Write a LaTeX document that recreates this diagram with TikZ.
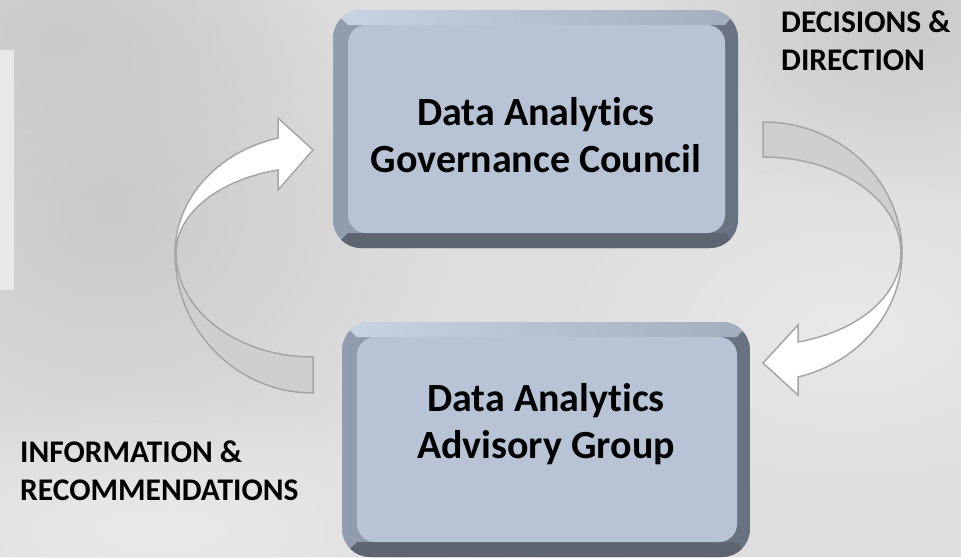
\documentclass[tikz,border=0pt]{standalone}
\usepackage{fontspec}
\setmainfont{Carlito}[Ligatures={NoCommon}]
\usetikzlibrary{shadings,fadings}
\definecolor{bgbase}{HTML}{DEDEDE}
\definecolor{bgdark}{HTML}{CACACA}
\definecolor{bglight}{HTML}{E9E9E9}
\definecolor{face}{HTML}{B8C4D6}
\definecolor{bevL}{HTML}{929EAF}
\definecolor{bevR}{HTML}{687180}
\definecolor{bevT}{HTML}{C8D4E4}
\definecolor{bevTR}{HTML}{A3AEBD}
\definecolor{bevB}{HTML}{5E6570}
\definecolor{arrline}{HTML}{A6A6A6}
\definecolor{arrback}{HTML}{CFCFCF}
\tikzfading[name=softfade, inner color=transparent!0, outer color=transparent!100]
\tikzset{
  boxtext/.style={font=\bfseries\fontsize{40}{47}\selectfont, align=center, inner sep=0pt, text=black},
  lbltext/.style={font=\bfseries\fontsize{31.5}{38}\selectfont, align=left, inner sep=0pt, text=black, anchor=west},
  arrfront/.style={fill=white, draw=arrline, line width=1.5pt, line join=miter},
  arrbackst/.style={fill=arrback, draw=arrline, line width=1.5pt, line join=miter},
  softdark/.style={fill=bgdark, path fading=softfade},
  softlight/.style={fill=bglight, path fading=softfade},
}
\newcommand\bevbox[4]{%
  \shade[left color=bevL, right color=bevR, rounded corners=28pt] (#1,#2) rectangle (#3,#4);
  \begin{scope}
    \clip[rounded corners=28pt] (#1,#2) rectangle (#3,#4);
    \shade[left color=bevT, right color=bevTR] (#1,#2) -- (#3,#2) -- ({#3-13},{#2+15}) -- ({#1+15},{#2+15}) -- cycle;
    \fill[bevB] (#1,#4) -- (#3,#4) -- ({#3-13},{#4-15}) -- ({#1+15},{#4-15}) -- cycle;
  \end{scope}
  \fill[face, rounded corners=18pt] ({#1+15},{#2+15}) rectangle ({#3-13},{#4-15});
}
\begin{document}
\begin{tikzpicture}[x=1pt, y=-1pt]
  \useasboundingbox (0,0) rectangle (961,557);
  % background
  \fill[bgbase] (0,0) rectangle (961,557);
  \begin{scope}
    \clip (0,0) rectangle (961,557);
    \fill[softdark] (110,210) ellipse (340 and 300);
    \fill[softdark] (60,40) ellipse (260 and 160);
    \fill[softdark] (900,20) ellipse (260 and 180);
    \fill[softlight] (850,330) ellipse (300 and 180);
    \fill[softlight] (160,530) ellipse (360 and 140);
  \end{scope}
  \fill[bglight] (0,50) rectangle (14,290);
  % boxes
  \bevbox{333}{10}{738}{248}
  \bevbox{342}{322}{750}{557}
  \node[boxtext] (gov) at (536,135.5) {Data Analytics\\Governance Council};
  \node[boxtext] (adv) at (546,424) {Data Analytics\\Advisory Group};
  % labels
  \node[lbltext] (dec) at (781,40.5) {DECISIONS \&\\DIRECTION};
  \node[lbltext] (info) at (20,471) {INFORMATION \&\\RECOMMENDATIONS};
  % left curved arrow (up to the council)
  \draw[arrbackst] (175,253) .. controls (175,330.3) and (236.8,393) .. (313,393)
     -- (313,357) .. controls (237.3,357) and (176,310.4) .. (176,253) -- cycle;
  \draw[arrfront] (175,253) .. controls (175,199) and (217.4,151.7) .. (278,138)
     -- (278,118) -- (313,150) -- (278,190) -- (278,170)
     .. controls (217.9,179.95) and (176,214.1) .. (176,253) -- cycle;
  % right curved arrow (down to the advisory group)
  \draw[arrbackst] (763,122) .. controls (839.8,122) and (902,180.6) .. (902,253)
     -- (901,253) .. controls (901,200) and (839.2,157) .. (763,157) -- cycle;
  \draw[arrfront] (902,253) .. controls (902,311.3) and (859.2,362.3) .. (798,377)
     -- (798,395) -- (763,363) -- (798,325) -- (798,342)
     .. controls (858.8,331.4) and (901,294.9) .. (901,253) -- cycle;
\end{tikzpicture}
\end{document}
